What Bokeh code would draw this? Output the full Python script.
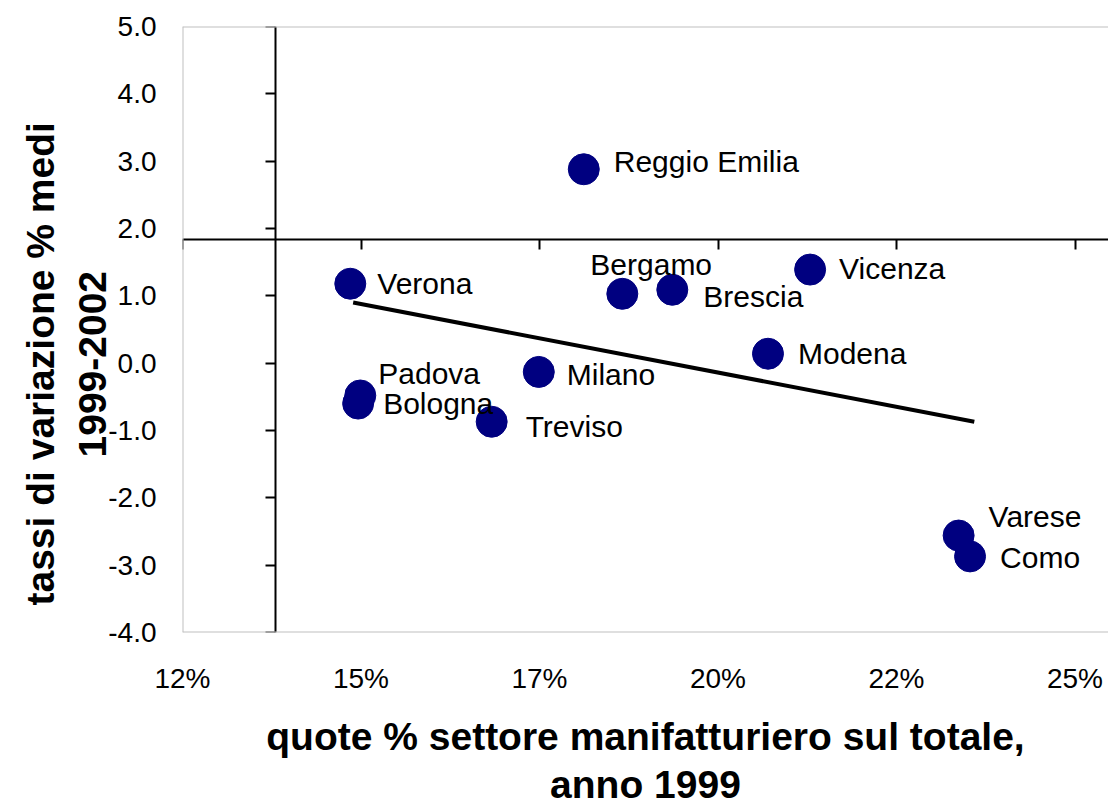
from bokeh.plotting import figure
from bokeh.models import Range1d, LinearAxis, FixedTicker, Span, Title
from bokeh.core.properties import value
from bokeh.embed import file_html
from bokeh.resources import INLINE

# ---------------- data ----------------
provinces = ["Verona", "Padova", "Bologna", "Treviso", "Milano", "Reggio Emilia",
             "Bergamo", "Brescia", "Vicenza", "Modena", "Varese", "Como"]
manuf_share = [14.85, 14.99, 14.96, 16.83, 17.49, 18.12,
               18.66, 19.36, 21.29, 20.70, 23.37, 23.53]      # % share, 1999
growth = [1.18, -0.48, -0.60, -0.87, -0.13, 2.88,
          1.03, 1.09, 1.39, 0.14, -2.56, -2.87]                # avg % change 1999-2002
trend_x = [14.89, 23.59]
trend_y = [0.90, -0.87]

x_ticks = [12.5, 15.0, 17.5, 20.0, 22.5, 25.0]
x_tick_labels = ["12%", "15%", "17%", "20%", "22%", "25%"]
y_ticks = [-4, -3, -2, -1, 0, 1, 2, 3, 4, 5]
y_tick_labels = ["-4.0", "-3.0", "-2.0", "-1.0", "0.0", "1.0", "2.0", "3.0", "4.0", "5.0"]

x_title = "quote % settore manifatturiero sul totale,\nanno 1999"
y_title = ["tassi di variazione % medi", "1999-2002"]

# ---------------- layout / style ----------------
FL, FT = 182, 26
FW, FH = 926, 606
X0, PPX = 12.5, 71.4
X1 = X0 + FW / PPX
Y0, Y1 = -4.0, 5.0
X_CROSS = 13.8
Y_CROSS = 1.84

label_dx = [27, 18, 25, 34, 28, 30, -32, 31, 29, 30, 30, 30]
label_dy = [0, -22, 0, 5, 3, -8, -29, 7, -1, 0, -19, 1]
y_title_offsets = [27, 175]   # distance of each line's start from the plot bottom
y_title_standoffs = [30, 0]

FONT = "Liberation Sans"
NAVY = "#000080"
TITLE_SIZE = "39px"

p = figure(frame_width=FW, frame_height=FH,
           x_range=Range1d(X0, X1), y_range=Range1d(Y0, Y1),
           output_backend="svg", toolbar_location=None,
           min_border_left=FL, min_border_right=0,
           min_border_top=FT, min_border_bottom=173,
           background_fill_color="white", border_fill_color="white")
p.outline_line_color = None
p.grid.visible = False

# outer axes: labels only
xa = p.xaxis[0]
xa.ticker = FixedTicker(ticks=x_ticks)
xa.major_label_overrides = dict(zip(x_ticks, x_tick_labels))
xa.axis_line_color = None
xa.major_tick_line_color = None
xa.minor_tick_line_color = None
xa.major_tick_out = 0
xa.minor_tick_out = 0
xa.major_label_standoff = 30
xa.major_label_text_font = FONT
xa.major_label_text_font_size = "28px"
xa.major_label_text_color = "black"
xa.axis_label = x_title
xa.axis_label_standoff = 18
xa.axis_label_text_font = FONT
xa.axis_label_text_font_style = "bold"
xa.axis_label_text_font_size = TITLE_SIZE
xa.axis_label_text_line_height = 1.12
xa.axis_label_text_color = "black"

ya = p.yaxis[0]
ya.ticker = FixedTicker(ticks=y_ticks)
ya.major_label_overrides = dict(zip(y_ticks, y_tick_labels))
ya.axis_line_color = None
ya.major_tick_line_color = None
ya.minor_tick_line_color = None
ya.major_tick_out = 0
ya.minor_tick_out = 0
ya.major_label_standoff = 26
ya.major_label_text_font = FONT
ya.major_label_text_font_size = "28px"
ya.major_label_text_color = "black"

# y title: two rotated lines in the left panel (nearest line first)
for i in (1, 0):
    p.add_layout(Title(text=y_title[i], align="left", offset=y_title_offsets[i],
                       standoff=y_title_standoffs[i], vertical_align="bottom",
                       text_font=FONT, text_font_style="bold",
                       text_font_size=TITLE_SIZE, text_color="black"), "left")

# plot-area border (left, top, bottom)
for loc, dim in [(X0, "height"), (Y1, "width"), (Y0, "width")]:
    p.add_layout(Span(location=loc, dimension=dim, line_color="#c0c0c0", line_width=2))

# crossing axes
ycross = LinearAxis(fixed_location=X_CROSS, ticker=FixedTicker(ticks=y_ticks),
                    axis_line_width=2, axis_line_color="black",
                    major_tick_line_width=2, major_tick_line_color="black",
                    major_tick_in=0, major_tick_out=10,
                    minor_tick_line_color=None, major_label_text_color=None)
p.add_layout(ycross, "left")
xcross = LinearAxis(fixed_location=Y_CROSS, ticker=FixedTicker(ticks=x_ticks),
                    axis_line_width=2, axis_line_color="black",
                    major_tick_line_width=2, major_tick_line_color="black",
                    major_tick_in=0, major_tick_out=10,
                    minor_tick_line_color=None, major_label_text_color=None)
p.add_layout(xcross, "below")

# trend line and points
p.line(trend_x, trend_y, line_color="black", line_width=4)
p.scatter(manuf_share, growth, size=31, fill_color=NAVY, line_color=NAVY, line_width=1)
p.text(x=manuf_share, y=growth, text=provinces, x_offset=label_dx, y_offset=label_dy,
       text_font=value(FONT), text_font_size="30px", text_color="black",
       text_align="left", text_baseline="middle")

open("out.html", "w").write(file_html(p, INLINE))
